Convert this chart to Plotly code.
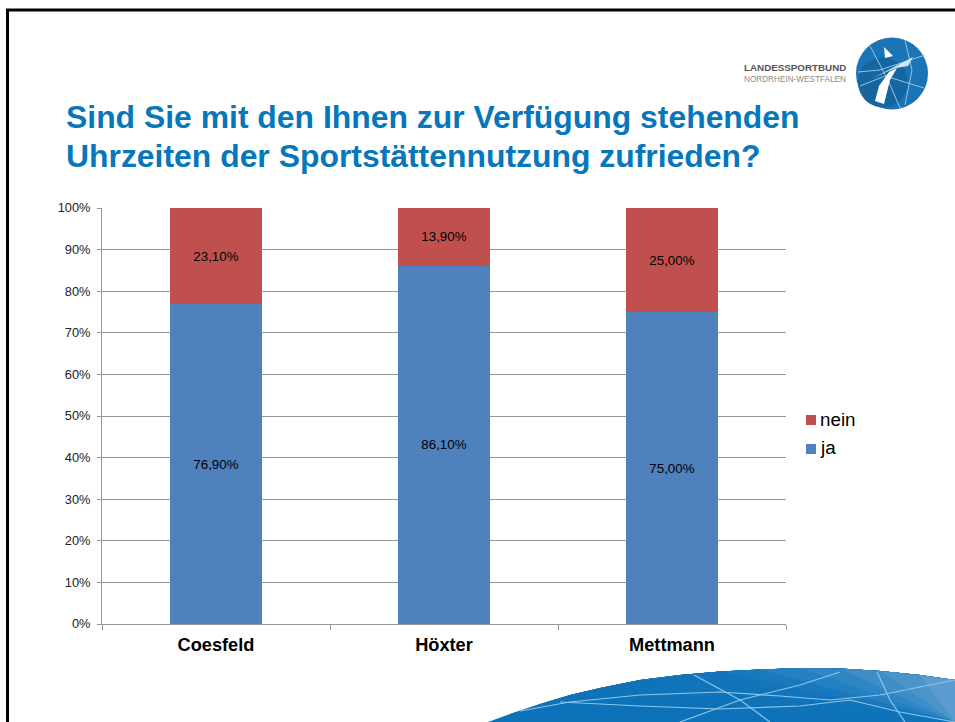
import plotly.graph_objects as go

W, H = 955, 722
categories = ["Coesfeld", "Höxter", "Mettmann"]
ja = [76.9, 86.1, 75.0]
nein = [23.1, 13.9, 25.0]
y_ticks = list(range(0, 101, 10))
y_tick_labels = [f"{v}%" for v in y_ticks]
title_lines = ["Sind Sie mit den Ihnen zur Verfügung stehenden",
               "Uhrzeiten der Sportstättennutzung zufrieden?"]
BLUE, RED = "#4f81bd", "#c0504d"
FONT = "Liberation Sans"

def px(x): return x / W
def py(y): return 1 - y / H
def P(x, y): return f"{px(x):.5f},{py(y):.5f}"

fig = go.Figure()
for name, vals, col in [("ja", ja, BLUE), ("nein", nein, RED)]:
    fig.add_trace(go.Bar(
        name=name, x=categories, y=vals, marker=dict(color=col, line_width=0),
        width=0.4, texttemplate="%{y:.2f}%", textposition="inside",
        insidetextanchor="middle", constraintext="none", textangle=0,
        textfont=dict(family=FONT, size=13.3, color="#000000"), showlegend=False))

shapes = []
annots = []
def pshape(path, fill=None, line=None, width=0):
    shapes.append(dict(type="path", xref="paper", yref="paper", path=path,
                       fillcolor=fill or "rgba(0,0,0,0)",
                       line=dict(color=line or "rgba(0,0,0,0)", width=width), layer="below"))
def curve(pts):
    return "M" + " L".join(P(*p) for p in pts)

# page frame
pshape(curve([(7.5, 722), (7.5, 10), (955, 10)]), line="#000000", width=3)

# bottom swoosh, painted in overlapping bands from left to right
top = [(488, 722), (510, 714), (540, 704), (570, 695), (600, 688), (640, 680), (680, 675),
       (720, 671.5), (760, 669.5), (800, 668), (840, 668.5), (880, 671), (920, 675), (955, 680)]
band_cols = ["#0d72b9", "#0d72b9", "#0e72b9", "#0f73ba", "#0f73ba", "#1074ba", "#1275bb",
             "#1a79bd", "#2480c1", "#2e86c4", "#3c8dc8", "#4a94cb", "#5a9ccf"]
for i in range(len(top) - 1):
    pts = top[i:] + [(955, 722)]
    pshape(curve(pts) + " Z", fill=band_cols[i])
for seg in ([(520, 711), (570, 702), (640, 695), (720, 692), (780, 696), (830, 700), (880, 695), (955, 680)],
            ((560, 702), (640, 706), (720, 709), (800, 706), (850, 700), (900, 712), (955, 722)),
            ((680, 722), (740, 700), (800, 685), (840, 672)),
            ((694, 675), (740, 700), (770, 722)),
            ((877, 672), (890, 700), (905, 722))):
    pshape(curve(list(seg)), line="#8fc6e8", width=1.2)

# logo globe
cx, cy, r = 892, 73.5, 36
shapes.append(dict(type="circle", xref="paper", yref="paper", x0=px(cx-r), x1=px(cx+r),
                   y0=py(cy+r), y1=py(cy-r), fillcolor="#1a74b5", line_width=0, layer="below"))
shapes.append(dict(type="circle", xref="paper", yref="paper", x0=px(cx-r+2), x1=px(cx+r-20),
                   y0=py(cy+r-2), y1=py(cy-r+20), fillcolor="#15659f", line_width=0, layer="below"))
for seg in ([(858, 72), (880, 70), (925, 55)], [(860, 86), (885, 76), (924, 88)],
            [(870, 46), (888, 80), (900, 108)], [(905, 40), (912, 70), (905, 105)]):
    pshape(curve(seg), line="#8fc6e8", width=1)
pshape(curve([(873, 78), (913, 57), (908, 66), (896, 68), (884, 73)]) + " Z", fill="#cfe6f5")
pshape(curve([(875, 101), (879, 86), (889, 72), (897, 68), (890, 80), (884, 104)]) + " Z", fill="#ffffff")
pshape(curve([(884, 47), (893, 56), (885, 58)]) + " Z", fill="#ffffff")

def text(x, y, s, size, color, anchor="left", bold=False):
    annots.append(dict(xref="paper", yref="paper", x=px(x), y=py(y), text=f"<b>{s}</b>" if bold else s,
                       showarrow=False, xanchor=anchor, yanchor="middle", align="left",
                       font=dict(family=FONT, size=size, color=color), borderpad=0))

text(743, 67.5, "LANDESSPORTBUND", 9.8, "#555555", bold=True)
text(743, 79.5, "NORDRHEIN-WESTFALEN", 8.2, "#8a8a8a")
text(64.5, 117, title_lines[0], 31.9, "#0677ba", bold=True)
text(64.5, 156, title_lines[1], 31.9, "#0677ba", bold=True)

# legend
for y, name, col in [(420, "nein", RED), (449, "ja", BLUE)]:
    shapes.append(dict(type="rect", xref="paper", yref="paper", x0=px(806), x1=px(816),
                       y0=py(y+5), y1=py(y-5), fillcolor=col, line_width=0))
    text(818.5, y - 1, name, 18.8, "#000000")

fig.update_layout(
    width=W, height=H, autosize=False, barmode="stack", showlegend=False,
    margin=dict(l=0, r=0, t=0, b=0, pad=0, autoexpand=False), paper_bgcolor="#ffffff", plot_bgcolor="#ffffff",
    separators=",.", bargap=0.6, shapes=shapes, annotations=annots,
    font=dict(family=FONT),
    xaxis=dict(domain=[px(102), px(786)], tickson="boundaries", ticks="outside", ticklen=5,
               tickcolor="#969696", linecolor="#969696", linewidth=1, showline=True, showgrid=False,
               tickfont=dict(family=FONT, size=18.2, color="#000000", weight="bold"), ticklabelstandoff=4),
    yaxis=dict(domain=[py(624), py(208)], range=[0, 100], tickvals=y_ticks, ticktext=y_tick_labels,
               ticks="outside", ticklen=4, tickcolor="#969696", linecolor="#969696", linewidth=1,
               showline=True, gridcolor="#969696", gridwidth=1, zeroline=False, ticklabelstandoff=4,
               tickfont=dict(family=FONT, size=12.8, color="#222222")))
fig.write_html("out.html", config={"displayModeBar": False},
               post_script="document.body.style.margin='0';document.documentElement.style.overflow='hidden';")
